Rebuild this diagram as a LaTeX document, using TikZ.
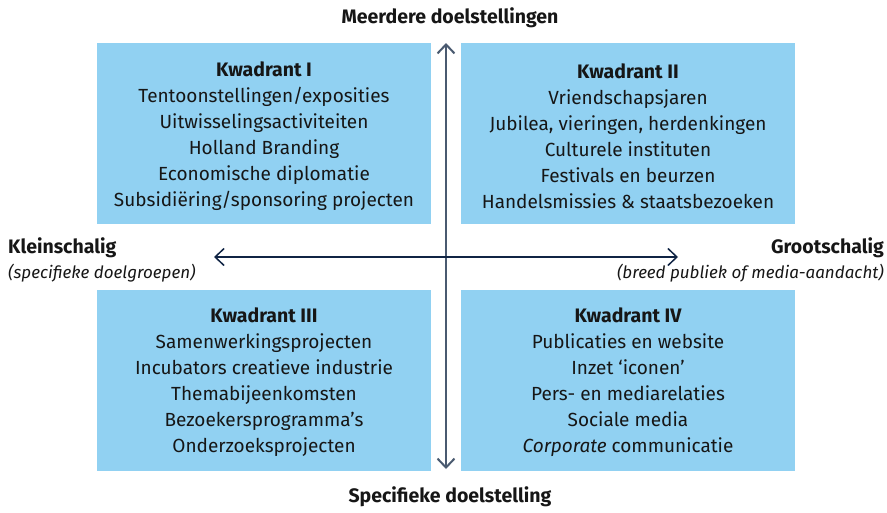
\documentclass[tikz,border=0pt]{standalone}
\usepackage{fontspec}
\setmainfont{Fira Sans}
\usetikzlibrary{arrows.meta}
\definecolor{kwblauw}{HTML}{91D1F2}
\definecolor{asgrijs}{HTML}{4A5A70}
\definecolor{asnavy}{HTML}{102444}
\definecolor{tekst}{HTML}{161616}
\begin{document}
\begin{tikzpicture}[x=1pt, y=-1pt, line join=round, line cap=round,
  font=\fontsize{19}{26}\selectfont, text=tekst,
  kwadrant/.style={fill=kwblauw, minimum width=334pt, minimum height=181pt, inner sep=0pt},
  lijst/.style={align=center, inner sep=0pt},
  titel/.style={font=\fontsize{19.5}{20}\selectfont\bfseries},
  sub/.style={font=\fontsize{17}{20}\selectfont\itshape},
  pijl/.style={{Straight Barb[length=9pt,width=17pt]}-{Straight Barb[length=9pt,width=17pt]}}]
\useasboundingbox (0,0) rectangle (887,512);
\def\kop#1{{\fontsize{19.5}{26}\selectfont\bfseries #1}}
% kwadranten
\node[kwadrant] (kwI) at (264,133) {};
\node[kwadrant] (kwII) at (628,133) {};
\node[kwadrant] (kwIII) at (264,380) {};
\node[kwadrant] (kwIV) at (628,380) {};
\node[lijst] (lijstI) at ([yshift=-3pt]kwI.center) {\kop{Kwadrant I}\\Tentoonstellingen/exposities\\Uitwisselingsactiviteiten\\Holland Branding\\Economische diplomatie\\Subsidiëring/sponsoring projecten};
\node[lijst] (lijstII) at ([yshift=-3pt]kwII.center) {\kop{Kwadrant II}\\Vriendschapsjaren\\Jubilea, vieringen, herdenkingen\\Culturele instituten\\Festivals en beurzen\\Handelsmissies \& staatsbezoeken};
\node[lijst] (lijstIII) at ([yshift=-2pt]kwIII.center) {\kop{Kwadrant III}\\Samenwerkingsprojecten\\Incubators creatieve industrie\\Themabijeenkomsten\\Bezoekersprogramma's\\Onderzoeksprojecten};
\node[lijst] (lijstIV) at ([yshift=-2pt]kwIV.center) {\kop{Kwadrant IV}\\Publicaties en website\\Inzet ‘iconen’\\Pers- en mediarelaties\\Sociale media\\\textit{Corporate} communicatie};
% assen
\coordinate (boven) at (446,43);
\coordinate (onder) at (446,469);
\coordinate (links) at (214,257);
\coordinate (rechts) at (678,257);
\draw[pijl, asgrijs, line width=2pt] (boven) -- (onder);
\draw[pijl, asnavy, line width=1.5pt] (links) -- (rechts);
% labels
\node[titel] (meer) at (450,18) {Meerdere doelstellingen};
\node[titel] (spec) at (450,497) {Specifieke doelstelling};
\node[titel, anchor=west, inner sep=0pt] (klein) at (8,248) {Kleinschalig};
\node[sub, anchor=west, inner sep=0pt] (kleinsub) at (8,273) {(specifieke doelgroepen)};
\node[titel, anchor=east, inner sep=0pt] (groot) at (884,248) {Grootschalig};
\node[sub, anchor=east, inner sep=0pt] (grootsub) at (884,273) {(breed publiek of media-aandacht)};
\end{tikzpicture}
\end{document}
